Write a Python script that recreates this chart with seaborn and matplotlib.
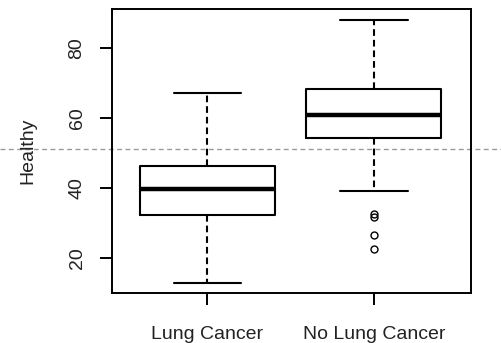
import matplotlib
matplotlib.use("Agg")
import matplotlib.pyplot as plt
import seaborn as sns
import pandas as pd

# ---- data ----
categories = ["Lung Cancer", "No Lung Cancer"]
lung_cancer = [12.8, 25.0, 32.2, 36.0, 39.6, 43.0, 46.3, 55.0, 67.0]
no_lung_cancer = [22.6, 26.4, 31.7, 32.4, 39.1, 54.3, 55.8, 57.2, 58.5, 59.6,
                  60.7, 62.0, 63.5, 65.1, 66.7, 68.2, 71.5, 74.8, 78.6, 83.2, 88.0]
threshold = 51
y_ticks = [20, 40, 60, 80]
y_label = "Healthy"

df = pd.DataFrame({
    "Group": [categories[0]] * len(lung_cancer) + [categories[1]] * len(no_lung_cancer),
    "Healthy": lung_cancer + no_lung_cancer,
})

sns.set_style("white")
plt.rcParams["font.family"] = ["Liberation Sans", "DejaVu Sans"]
txt_color = "#222222"

fig = plt.figure(figsize=(5.02, 3.43), dpi=100)
ax = fig.add_axes([0.2225, 0.1458, 0.7155, 0.828])

sns.boxplot(
    data=df, x="Group", y="Healthy", order=categories, ax=ax,
    width=0.81, fill=False, color="black", linewidth=1.5,
    whiskerprops=dict(linestyle=(0, (3.2, 1.9)), color="black", linewidth=1.5),
    capprops=dict(color="black", linewidth=1.5),
    boxprops=dict(color="black", linewidth=1.5),
    medianprops=dict(color="black", linewidth=3.2),
    flierprops=dict(marker="o", markersize=5, markerfacecolor="none",
                    markeredgecolor="black", markeredgewidth=1.0),
)

ax.set_xlim(-0.5735, 1.582)
ax.set_ylim(9.9, 91.05)
ax.set_yticks(y_ticks)
ax.set_yticklabels([str(v) for v in y_ticks], rotation=90, va="center")

for s in ax.spines.values():
    s.set_visible(True)
    s.set_color("black")
    s.set_linewidth(1.4)

ax.tick_params(axis="both", which="major", bottom=True, left=True, direction="out",
               length=8.6, width=1.4, color="black", labelcolor=txt_color,
               labelsize=14)
ax.tick_params(axis="x", pad=15.5)
ax.tick_params(axis="y", pad=10.2)

ax.set_xlabel("")
ax.set_ylabel(y_label, fontsize=14, color=txt_color)
ax.yaxis.set_label_coords(-0.211, 0.5)

ax.axhline(threshold, xmin=-0.31, xmax=1.09, clip_on=False, color="#999999",
           linewidth=1.0, linestyle=(0, (3.5, 2.5)), zorder=0)

fig.savefig("out.png", dpi=100)
